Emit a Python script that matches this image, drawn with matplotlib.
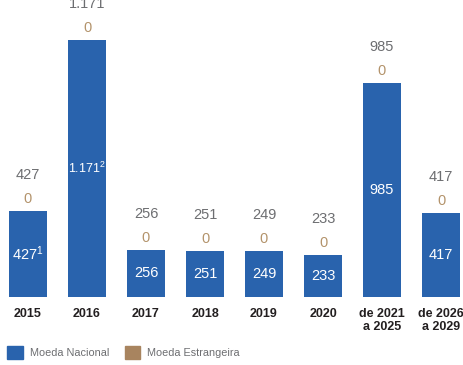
import numpy as np
import matplotlib.pyplot as plt
from matplotlib.patches import Patch

plt.rcParams['font.family'] = ['Liberation Sans Narrow', 'Liberation Sans', 'DejaVu Sans']
plt.rcParams['mathtext.fontset'] = 'custom'
plt.rcParams['mathtext.rm'] = 'Liberation Sans'
plt.rcParams['mathtext.it'] = 'Liberation Sans'

categories = ['2015', '2016', '2017', '2018', '2019', '2020', 'de 2021\na 2025', 'de 2026\na 2029']
nacional = [427, 1171, 256, 251, 249, 233, 985, 417]
estrangeira = [0, 0, 0, 0, 0, 0, 0, 0]
inner_labels = ['427$^{1}$', '1.171$^{2}$', '256', '251', '249', '233', '985', '417']
total_labels = ['427', '1.171', '256', '251', '249', '233', '985', '417']

blue = '#2963ad'
tan = '#a8845f'
gray_txt = '#6d6e71'
tan_txt = '#b3936b'
ymin = 50  # the source chart's value axis does not start at zero

fig = plt.figure(figsize=(4.63, 3.65), dpi=100)
ax = fig.add_axes([0, 1 - 297 / 365, 1, 297 / 365])
x = np.arange(len(categories))
ax.bar(x, np.array(nacional) - ymin, bottom=ymin, width=0.63, color=blue)
ax.bar(x, estrangeira, bottom=nacional, width=0.63, color=tan)

for i, v in enumerate(nacional):
    lab = inner_labels[i]
    fs = 9 if len(lab) > 10 else 10.5  # the long one has to fit inside its bar
    ax.text(x[i], (v + ymin) / 2, lab, ha='center', va='center', color='white', fontsize=fs)
    ax.annotate('0' if estrangeira[i] == 0 else str(estrangeira[i]), (x[i], v + estrangeira[i]),
                xytext=(0, 12), textcoords='offset pixels', ha='center', va='center',
                color=tan_txt, fontsize=10.5)
    ax.annotate(total_labels[i], (x[i], v + estrangeira[i]), xytext=(0, 36),
                textcoords='offset pixels', ha='center', va='center', color=gray_txt, fontsize=10.5)

ax.set_xlim(-28 / 59, (463 - 28) / 59)
ax.set_ylim(ymin, ymin + (1171 - ymin) * 297 / 257)
ax.set_xticks(x)
ax.set_xticklabels(categories, fontsize=9, fontweight='bold', color='#231f20', linespacing=1.1)
ax.tick_params(axis='x', length=0, pad=8)
ax.set_yticks([])
for s in ax.spines.values():
    s.set_visible(False)
ax.patch.set_visible(False)

handles = [Patch(color=blue, label='Moeda Nacional'), Patch(color=tan, label='Moeda Estrangeira')]
fig.legend(handles=handles, loc='lower left', bbox_to_anchor=(-0.005, -0.01), ncol=2, frameon=False,
           fontsize=7.8, handlelength=1.4, handleheight=1.4, handletextpad=0.7, columnspacing=1.4,
           labelcolor=gray_txt)

fig.savefig('out.png', dpi=100)
